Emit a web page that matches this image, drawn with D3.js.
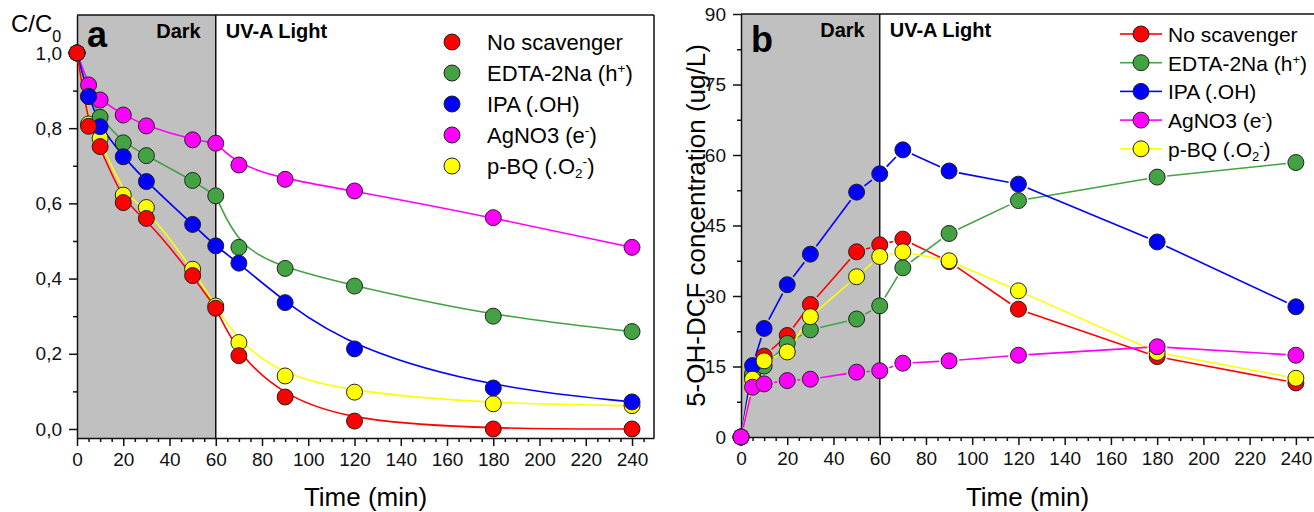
<!DOCTYPE html>
<html>
<head>
<meta charset="utf-8">
<script src="https://cdn.jsdelivr.net/npm/d3@7"></script>
<style>
  body { margin: 0; background: #fff; }
  svg { display: block; font-family: 'Liberation Sans', Arial, sans-serif; }
</style>
</head>
<body>
<svg id="chart" width="1314" height="512"></svg>
<script>
const times = [0, 5, 10, 20, 30, 50, 60, 70, 90, 120, 180, 240]

// legend labels, split so that sub/superscripts can be drawn
const seriesLabels = [
	[['No scavenger']],
	[['EDTA-2Na (h'], ['+', 'sup'], [')']],
	[['IPA (.OH)']],
	[['AgNO3 (e'], ['-', 'sup'], [')']],
	[['p-BQ (.O'], ['2', 'sub'], ['-', 'sup'], [')']]
]
const colors = ['#ff0000', '#43a343', '#0000ff', '#ff00ff', '#ffff00']

// panel a: C/C0
const ratioNone = [1.0, 0.805, 0.751, 0.602, 0.560, 0.408, 0.321, 0.195, 0.085, 0.021, 0.0, 0.0]
const ratioEdta = [1.0, 0.885, 0.829, 0.761, 0.727, 0.661, 0.620, 0.483, 0.427, 0.380, 0.300, 0.259]
const ratioIpa = [1.0, 0.884, 0.804, 0.724, 0.658, 0.544, 0.487, 0.441, 0.336, 0.213, 0.109, 0.072]
const ratioAgno3 = [1.0, 0.915, 0.875, 0.835, 0.806, 0.769, 0.760, 0.702, 0.664, 0.633, 0.562, 0.483]
const ratioPbq = [1.0, 0.811, 0.773, 0.622, 0.589, 0.425, 0.327, 0.230, 0.141, 0.098, 0.067, 0.062]

// panel b: 5-OH-DCF (ug/L)
const dcfNone = [0, 12.8, 17.2, 21.6, 28.2, 39.4, 40.9, 42.1, 37.3, 27.2, 17.1, 11.5]
const dcfEdta = [0, 13.5, 15.1, 19.9, 22.8, 25.1, 27.9, 36.0, 43.3, 50.3, 55.3, 58.4]
const dcfIpa = [0, 15.2, 23.1, 32.4, 38.9, 52.1, 56.0, 61.1, 56.6, 53.8, 41.5, 27.7]
const dcfAgno3 = [0, 10.6, 11.3, 12.0, 12.3, 13.8, 14.1, 15.7, 16.2, 17.4, 19.2, 17.4]
const dcfPbq = [0, 12.3, 16.2, 18.1, 25.6, 34.1, 38.4, 39.4, 37.5, 31.1, 18.0, 12.5]

const xTicks = d3.range(0, 241, 20)
const xMinorTicks = d3.range(0, 246, 5).filter(d => d % 20 !== 0)
const ratioTicks = [0, 0.2, 0.4, 0.6, 0.8, 1.0]
const ratioMinorTicks = [0.1, 0.3, 0.5, 0.7, 0.9]
const dcfTicks = [0, 15, 30, 45, 60, 75, 90]
const dcfMinorTicks = [7.5, 22.5, 37.5, 52.5, 67.5, 82.5]

const darkEnd = 60
const r = 8
const svg = d3.select('#chart')

function drawFrame(g, x, y, box, yTicks, yMinor, yFormat) {
	g.append('rect')
		.attr('x', x(0)).attr('y', box.top)
		.attr('width', x(darkEnd) - x(0)).attr('height', box.bottom - box.top)
		.attr('fill', '#c0c0c0')

	const xAxis = g.append('g').attr('transform', `translate(0,${box.bottom})`)
	xAxis.call(d3.axisBottom(x).tickValues(xTicks).tickSize(8).tickSizeOuter(0).tickPadding(7))
	xAxis.append('g').call(d3.axisBottom(x).tickValues(xMinorTicks).tickSize(4).tickFormat(''))
		.select('.domain').remove()

	const yAxis = g.append('g').attr('transform', `translate(${box.left},0)`)
	yAxis.call(d3.axisLeft(y).tickValues(yTicks).tickSize(8).tickSizeOuter(0).tickPadding(7).tickFormat(yFormat))
	yAxis.append('g').call(d3.axisLeft(y).tickValues(yMinor).tickSize(4).tickFormat(''))
		.select('.domain').remove()

	g.selectAll('.tick text').style('font-size', '19px').attr('fill', '#111')
	g.selectAll('.domain, .tick line').attr('stroke', '#111').attr('stroke-width', 1.5)

	g.append('line')
		.attr('x1', box.left).attr('x2', box.right).attr('y1', box.top).attr('y2', box.top)
		.attr('stroke', '#111').attr('stroke-width', 1.5)
	g.append('line')
		.attr('x1', box.right).attr('x2', box.right).attr('y1', box.top).attr('y2', box.bottom)
		.attr('stroke', '#111').attr('stroke-width', 1.5)
	g.append('line')
		.attr('x1', x(darkEnd)).attr('x2', x(darkEnd)).attr('y1', box.top).attr('y2', box.bottom)
		.attr('stroke', '#111').attr('stroke-width', 1.5)

	g.append('text').attr('x', x(darkEnd) - 15).attr('y', box.top + 23)
		.attr('text-anchor', 'end').style('font-size', '20px').style('font-weight', 'bold')
		.text('Dark')
	g.append('text').attr('x', x(darkEnd) + 10).attr('y', box.top + 23)
		.style('font-size', '20px').style('font-weight', 'bold')
		.text('UV-A Light')

	g.append('text').attr('x', (box.left + Math.min(box.right, 1314)) / 2).attr('y', 506)
		.attr('text-anchor', 'middle').style('font-size', '26px')
		.text('Time (min)')
}

function writeLabel(text, parts, size) {
	parts.forEach(([t, kind]) => {
		const span = text.append('tspan').text(t)
		if (kind === 'sup') span.style('font-size', `${size * 0.62}px`).attr('baseline-shift', '55%')
		if (kind === 'sub') span.style('font-size', `${size * 0.62}px`).attr('baseline-shift', '-30%')
	})
}

function drawMarkers(g, x, y, values, color) {
	g.selectAll(null).data(values).enter().append('circle')
		.attr('cx', (d, i) => x(times[i])).attr('cy', d => y(d)).attr('r', r)
		.attr('fill', color).attr('stroke', '#222').attr('stroke-width', 1)
}

// ---------- panel a ----------
function renderPanelA() {
	const box = { left: 77, right: 654, top: 15, bottom: 438 }
	const x = d3.scaleLinear().domain([0, 249.5]).range([box.left, box.right])
	const y = d3.scaleLinear().domain([-0.024, 1.101]).range([box.bottom, box.top])
	const g = svg.append('g')

	drawFrame(g, x, y, box, ratioTicks, ratioMinorTicks, d => d3.format('.1f')(d).replace('.', ','))

	const sets = [ratioNone, ratioEdta, ratioIpa, ratioAgno3, ratioPbq]
	const order = [4, 3, 1, 2, 0]
	const line = d3.line().x(d => x(d.t)).y(d => y(d.v)).curve(d3.curveBasis)

	order.forEach(k => {
		const pts = sets[k].map((v, i) => ({ t: times[i], v }))
		const segments = [pts.filter(p => p.t <= darkEnd), pts.filter(p => p.t >= darkEnd)]
		segments.forEach(seg => {
			g.append('path').attr('d', line(seg))
				.attr('fill', 'none').attr('stroke', colors[k]).attr('stroke-width', 1.6)
		})
	})
	order.forEach(k => drawMarkers(g, x, y, sets[k], colors[k]))

	g.append('text').attr('x', 87).attr('y', 47)
		.style('font-size', '36px').style('font-weight', 'bold').text('a')

	const yTitle = g.append('text').attr('x', 11).attr('y', 32).style('font-size', '24px')
	yTitle.append('tspan').text('C/C')
	yTitle.append('tspan').text('0').style('font-size', '16px').attr('dy', 10)

	const legend = g.append('g')
	seriesLabels.forEach((parts, i) => {
		const ly = 42 + i * 31
		legend.append('circle').attr('cx', 452).attr('cy', ly).attr('r', r)
			.attr('fill', colors[i]).attr('stroke', '#222').attr('stroke-width', 1)
		const t = legend.append('text').attr('x', 487).attr('y', ly + 8).style('font-size', '22px')
		writeLabel(t, parts, 22)
	})
}

// ---------- panel b ----------
function renderPanelB() {
	const box = { left: 741, right: 1319, top: 14, bottom: 437 }
	const x = d3.scaleLinear().domain([0, 250]).range([box.left, box.right])
	const y = d3.scaleLinear().domain([0, 90]).range([box.bottom, box.top])
	const g = svg.append('g')

	drawFrame(g, x, y, box, dcfTicks, dcfMinorTicks, d => d)

	const sets = [dcfNone, dcfEdta, dcfIpa, dcfAgno3, dcfPbq]
	const order = [0, 1, 2, 4, 3]
	const gap = r + 2

	// straight segments that stop short of each marker
	order.forEach(k => {
		const pts = sets[k].map((v, i) => [x(times[i]), y(v)])
		d3.pairs(pts).forEach(([a, b]) => {
			const dx = b[0] - a[0], dy = b[1] - a[1]
			const len = Math.hypot(dx, dy)
			if (len <= gap * 2) return
			const ux = dx / len, uy = dy / len
			g.append('line')
				.attr('x1', a[0] + ux * gap).attr('y1', a[1] + uy * gap)
				.attr('x2', b[0] - ux * gap).attr('y2', b[1] - uy * gap)
				.attr('stroke', colors[k]).attr('stroke-width', 1.6)
		})
	})
	order.forEach(k => drawMarkers(g, x, y, sets[k], colors[k]))

	g.append('text').attr('x', 751).attr('y', 52)
		.style('font-size', '36px').style('font-weight', 'bold').text('b')

	g.append('text')
		.attr('transform', `translate(705,${(box.top + box.bottom) / 2}) rotate(-90)`)
		.attr('text-anchor', 'middle').style('font-size', '26px')
		.text('5-OH-DCF concentration (ug/L)')

	const legend = g.append('g')
	seriesLabels.forEach((parts, i) => {
		const ly = 34 + i * 28.7
		legend.append('line').attr('x1', 1120).attr('x2', 1133).attr('y1', ly).attr('y2', ly)
			.attr('stroke', colors[i]).attr('stroke-width', 1.6)
		legend.append('line').attr('x1', 1149).attr('x2', 1162).attr('y1', ly).attr('y2', ly)
			.attr('stroke', colors[i]).attr('stroke-width', 1.6)
		legend.append('circle').attr('cx', 1141).attr('cy', ly).attr('r', r)
			.attr('fill', colors[i]).attr('stroke', '#222').attr('stroke-width', 1)
		const t = legend.append('text').attr('x', 1168).attr('y', ly + 8).style('font-size', '21px')
		writeLabel(t, parts, 21)
	})
}

renderPanelA()
renderPanelB()
</script>
</body>
</html>
